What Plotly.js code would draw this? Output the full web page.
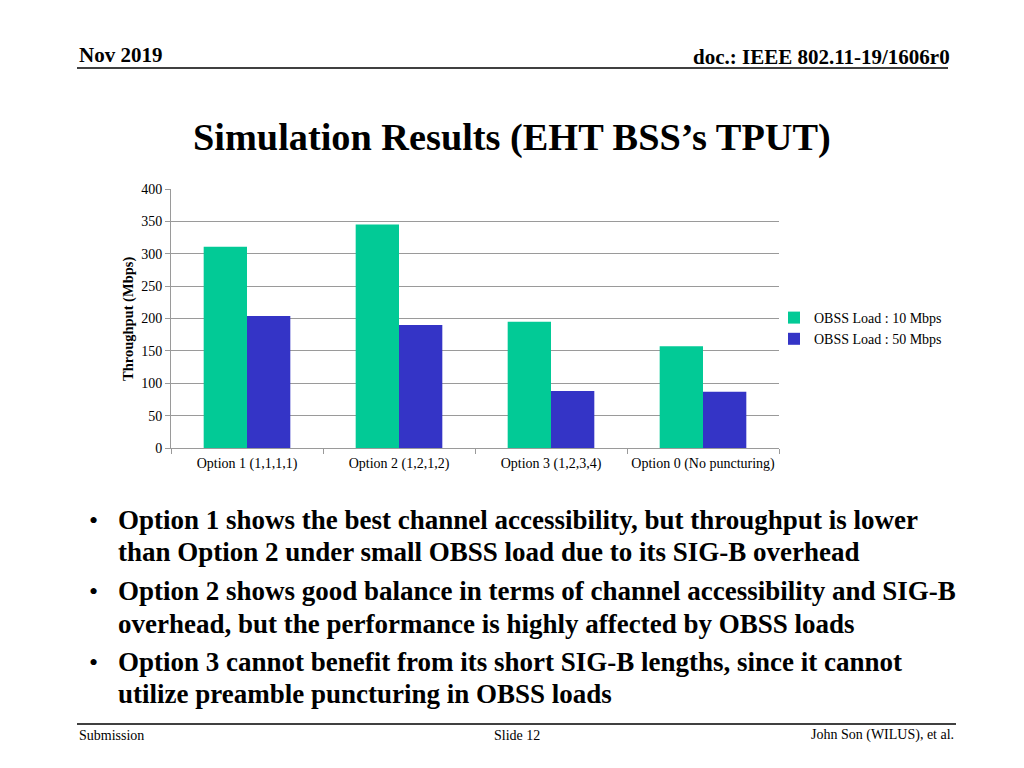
<!DOCTYPE html>
<html><head><meta charset="utf-8">
<script src="https://cdn.plot.ly/plotly-3.0.1.min.js"></script>
<style>html,body{margin:0;padding:0;background:#fff;}#chart{width:1024px;height:768px;}</style>
</head><body><div id="chart"></div>
<script>
const categories = ["Option 1 (1,1,1,1)", "Option 2 (1,2,1,2)", "Option 3 (1,2,3,4)", "Option 0 (No puncturing)"];
const load10 = [311, 345, 195, 157];
const load50 = [204, 190, 88, 87];
const seriesNames = ["OBSS Load : 10 Mbps", "OBSS Load : 50 Mbps"];
const yTicks = [0, 50, 100, 150, 200, 250, 300, 350, 400];
const bullets = [
  ["Option 1 shows the best channel accessibility, but throughput is lower", "than Option 2 under small OBSS load due to its SIG-B overhead"],
  ["Option 2 shows good balance in terms of channel accessibility and SIG-B", "overhead, but the performance is highly affected by OBSS loads"],
  ["Option 3 cannot benefit from its short SIG-B lengths, since it cannot", "utilize preamble puncturing in OBSS loads"]
];

const L = 171, R = 779, T = 189, B = 448;
const W = 1024, H = 768;
const px = x => (x - L) / (R - L);
const py = y => (B - y) / (B - T);
const serif = "Liberation Serif, Times New Roman, serif";

const traces = [
  {type: "bar", name: seriesNames[0], x: categories, y: load10, marker: {color: "#02CA96"}},
  {type: "bar", name: seriesNames[1], x: categories, y: load50, marker: {color: "#3434C6"}}
];

const ann = [];
function txt(x, y, text, size, bold, anchor, extra) {
  ann.push(Object.assign({xref: "paper", yref: "paper", x: px(x), y: py(y), text: bold ? "<b>" + text + "</b>" : text,
    showarrow: false, xanchor: anchor || "left", yanchor: "middle",
    font: {family: serif, size: size, color: "#000"}}, extra || {}));
}
txt(77, 55, "Nov 2019", 21, true, "left");
txt(952, 57, "doc.: IEEE 802.11-19/1606r0", 21, true, "right");
txt(512, 137, "Simulation Results (EHT BSS’s TPUT)", 38.3, true, "center");
txt(128, 319, "Throughput (Mbps)", 14.5, true, "center", {textangle: -90});
const lineYs = [[520, 552], [591, 624], [662, 694]];
bullets.forEach((b, i) => {
  txt(93, lineYs[i][0], "•", 26, false, "center");
  txt(116, lineYs[i][0], b[0], 27, true, "left");
  txt(116, lineYs[i][1], b[1], 27, true, "left");
});
txt(77, 735, "Submission", 14, false, "left");
txt(517, 735, "Slide 12", 14, false, "center");
txt(956, 735, "John Son (WILUS), et al.", 14, false, "right");

const shapes = [
  {type: "line", xref: "paper", yref: "paper", x0: px(77), x1: px(948), y0: py(68), y1: py(68), line: {color: "#000", width: 1.5}},
  {type: "line", xref: "paper", yref: "paper", x0: px(77), x1: px(956), y0: py(724), y1: py(724), line: {color: "#000", width: 1.5}}
];

const layout = {
  width: W, height: H,
  margin: {l: L, r: W - R, t: T, b: H - B, pad: 0},
  paper_bgcolor: "#fff", plot_bgcolor: "#fff",
  barmode: "group", bargap: 0.43, bargroupgap: 0,
  showlegend: true,
  legend: {x: px(774), y: py(302), xanchor: "left", yanchor: "top", font: {family: serif, size: 14, color: "#000"},
    itemwidth: 30, tracegroupgap: 0, bgcolor: "rgba(0,0,0,0)"},
  xaxis: {type: "category", tickangle: 0, automargin: false, tickfont: {family: serif, size: 14, color: "#000"}, showline: true, linecolor: "#9a9a9a", linewidth: 1,
    ticks: "outside", tickson: "boundaries", ticklen: 5, tickcolor: "#9a9a9a", showgrid: false, fixedrange: true, ticklabelstandoff: 2},
  yaxis: {range: [0, 400], tickvals: yTicks, ticktext: yTicks.map(String), tickfont: {family: serif, size: 14, color: "#000"},
    showline: true, linecolor: "#9a9a9a", linewidth: 1, ticks: "outside", ticklen: 5, tickcolor: "#9a9a9a",
    showgrid: true, gridcolor: "#9a9a9a", gridwidth: 1, zeroline: false, fixedrange: true},
  annotations: ann,
  shapes: shapes
};
Plotly.newPlot("chart", traces, layout, {displayModeBar: false, staticPlot: true});
</script></body></html>
